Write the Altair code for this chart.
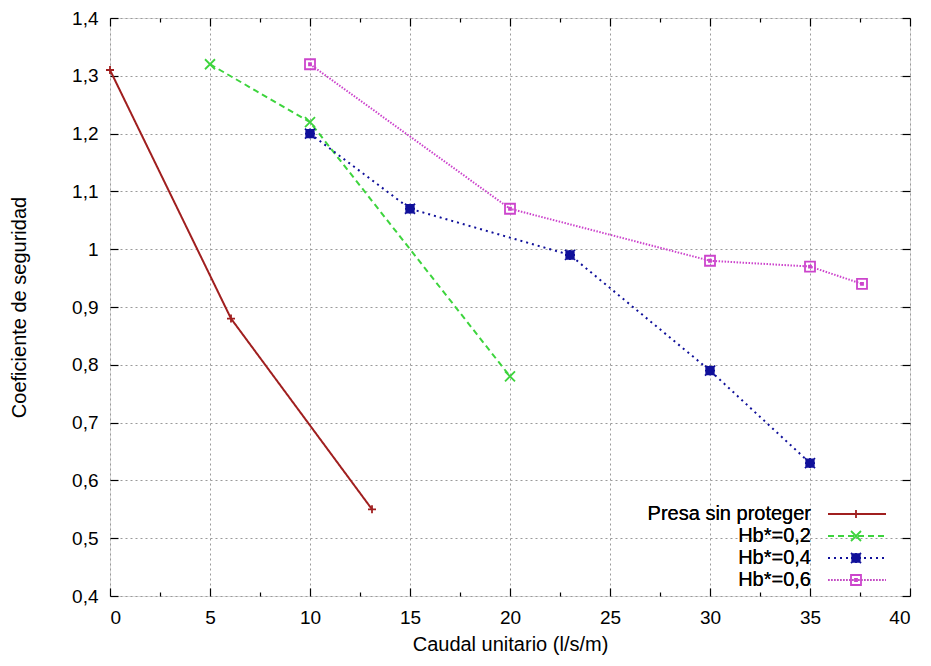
import altair as alt
import pandas as pd

# ---- data ----
series = ["Presa sin proteger", "Hb*=0,2", "Hb*=0,4", "Hb*=0,6"]
presa_x = [0, 6.05, 13.1]
presa_y = [1.31, 0.88, 0.55]
h02_x = [5, 10, 20]
h02_y = [1.32, 1.22, 0.78]
h04_x = [10, 15, 23, 30, 35]
h04_y = [1.20, 1.07, 0.99, 0.79, 0.63]
h06_x = [10, 20, 30, 35, 37.6]
h06_y = [1.32, 1.07, 0.98, 0.97, 0.94]

x_major = [0, 5, 10, 15, 20, 25, 30, 35, 40]
x_minor = [2.5, 7.5, 12.5, 17.5, 22.5, 27.5, 32.5, 37.5]
y_major = [0.4, 0.5, 0.6, 0.7, 0.8, 0.9, 1.0, 1.1, 1.2, 1.3, 1.4]

colors = ["#a01f1f", "#3dd43d", "#10109a", "#cc44cc"]
dashes = [[1, 0], [6, 4], [2, 4], [1.5, 1.5]]
shapes = [
    "M-0.8,0H0.8M0,-0.8V0.8",
    "M-1,-1L1,1M-1,1L1,-1",
    "M-1,-1L1,1M-1,1L1,-1M-0.75,-0.75H0.75V0.75H-0.75Z M-0.4,-0.4H0.4V0.4H-0.4Z M-1,0H1M0,-1V1",
    "M-1,-1H1V1H-1Z M-0.2,-0.2H0.2V0.2H-0.2Z",
]

rows = []
for name, xs, ys in zip(series, [presa_x, h02_x, h04_x, h06_x], [presa_y, h02_y, h04_y, h06_y]):
    for i, (xv, yv) in enumerate(zip(xs, ys)):
        rows.append({"x": xv, "y": yv, "serie": name, "serie2": name, "order": i})
df = pd.DataFrame(rows)

FONT = "Liberation Sans"
xscale = alt.Scale(domain=[0, 40], nice=False, zero=False)
yscale = alt.Scale(domain=[0.4, 1.4], nice=False, zero=False)
ylabel = "replace(format(datum.value, '.1~f'), '.', ',')"

LEG_FS = 20
LEG_ROWPAD = 2

# per-entry dash pattern for the legend symbols
dash_expr = ""
for name, d in zip(series[1:], dashes[1:]):
    dash_expr += f"datum.value == '{name}' ? [{d[0]},{d[1]}] : "
dash_expr += "[1,0]"


def line_legend():
    return alt.Legend(orient="none", legendX=737, legendY=486, title=None,
                      symbolType="M-11.6,0H11.6", symbolSize=25, symbolStrokeWidth=2,
                      symbolDash={"expr": dash_expr},
                      labelAlign="right", labelOffset={"expr": "-56"}, labelLimit=400,
                      labelFont=FONT, labelFontSize=LEG_FS, labelColor="black",
                      rowPadding=LEG_ROWPAD, padding=0)


def mark_legend():
    return alt.Legend(orient="none", legendX=736, legendY=486, title=None,
                      symbolSize=100, symbolStrokeWidth=1.8, symbolFillColor="transparent",
                      labelExpr="''", labelFontSize=LEG_FS, labelFont=FONT,
                      rowPadding=LEG_ROWPAD, padding=0)


base = alt.Chart(df)

lines = base.mark_line(strokeWidth=2, clip=False).encode(
    x=alt.X("x:Q", scale=xscale,
            axis=alt.Axis(orient="bottom", values=x_major, ticks=False, domain=False,
                          grid=True, gridDash=[2, 3], gridColor="#9a9a9a", gridWidth=1,
                          labelFont=FONT, labelFontSize=19, labelColor="black", labelPadding=12,
                          title="Caudal unitario (l/s/m)", titleFont=FONT, titleFontSize=20,
                          titleFontWeight="normal", titleColor="black", titlePadding=7)),
    y=alt.Y("y:Q", scale=yscale,
            axis=alt.Axis(orient="left", values=y_major, ticks=False, domain=False,
                          grid=True, gridDash=[2, 3], gridColor="#9a9a9a", gridWidth=1,
                          labelExpr=ylabel, labelFont=FONT, labelFontSize=19, labelColor="black",
                          labelPadding=12,
                          title="Coeficiente de seguridad", titleFont=FONT, titleFontSize=20,
                          titleFontWeight="normal", titleColor="black", titlePadding=42)),
    color=alt.Color("serie:N", scale=alt.Scale(domain=series, range=colors), legend=line_legend()),
    strokeDash=alt.StrokeDash("serie:N", scale=alt.Scale(domain=series, range=dashes),
                              legend=line_legend()),
    order="order:O",
)

points = base.mark_point(size=100, strokeWidth=1.8, filled=False, opacity=1, clip=False).encode(
    x=alt.X("x:Q", scale=xscale, axis=None),
    y=alt.Y("y:Q", scale=yscale, axis=None),
    color=alt.Color("serie2:N", scale=alt.Scale(domain=series, range=colors), legend=mark_legend()),
    shape=alt.Shape("serie2:N", scale=alt.Scale(domain=series, range=shapes), legend=mark_legend()),
)


def tick_layer(xorient, yorient, xvals, yvals, size):
    xa = alt.Axis(orient=xorient, values=xvals, offset=-size, tickSize=size, tickColor="black",
                  tickWidth=1.2, labels=False, domain=False, grid=False, title=None)
    if yvals is None:
        ya = None
    else:
        ya = alt.Axis(orient=yorient, values=yvals, offset=-size, tickSize=size, tickColor="black",
                      tickWidth=1.2, labels=False, domain=False, grid=False, title=None)
    return base.mark_point(opacity=0).encode(
        x=alt.X("x:Q", scale=xscale, axis=xa),
        y=alt.Y("y:Q", scale=yscale, axis=ya),
    )


ticks_bl = tick_layer("bottom", "left", x_major, y_major, 8)
ticks_tr = tick_layer("top", "right", x_major, y_major, 8)
minor_b = tick_layer("bottom", "left", x_minor, None, 4)
minor_t = tick_layer("top", "right", x_minor, None, 4)

chart = alt.layer(lines, points, ticks_bl, ticks_tr, minor_b, minor_t).resolve_scale(
    x="shared", y="shared", color="independent", shape="independent", strokeDash="shared"
).resolve_axis(x="independent", y="independent").properties(
    width=800, height=578,
    autosize=alt.AutoSizeParams(type="none"),
    padding={"left": 102, "top": 10, "right": 10, "bottom": 62},
).configure_view(stroke="black", strokeWidth=1.5).configure(background="white")

chart.save("out.html", embed_options={"renderer": "svg", "actions": False})
